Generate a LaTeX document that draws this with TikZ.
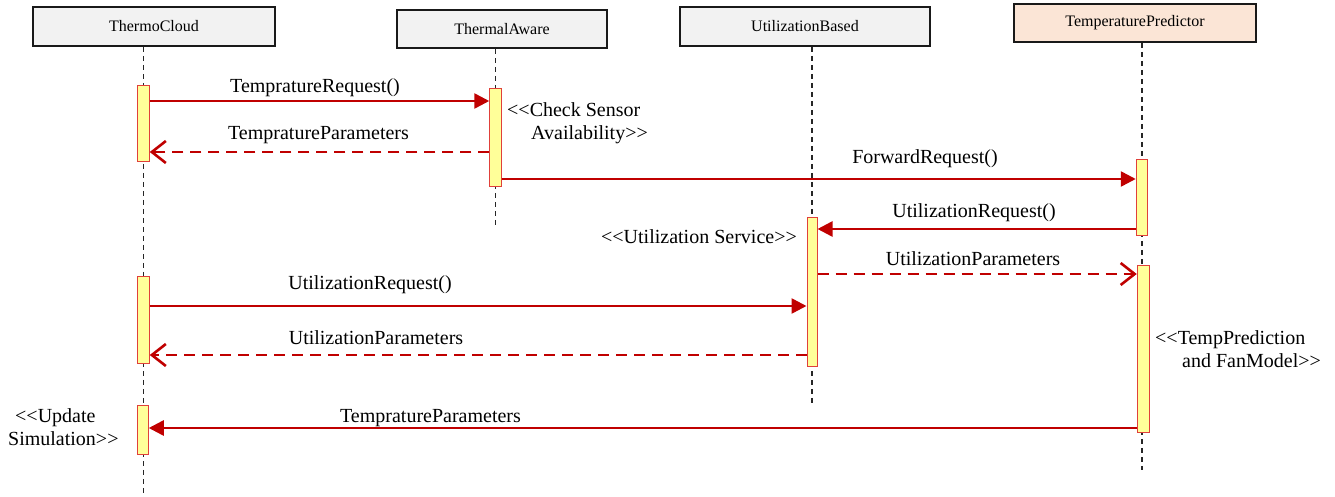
\documentclass[tikz,border=0pt]{standalone}
\usepackage{fontspec}
\setmainfont{Liberation Serif}
\usetikzlibrary{arrows.meta}
\definecolor{msgred}{HTML}{C00000}
\definecolor{barfill}{HTML}{FFFF99}
\definecolor{barline}{HTML}{E0403A}
\definecolor{headgray}{HTML}{F2F2F2}
\definecolor{headpeach}{HTML}{FBE5D6}
\newcommand\lsh{<\kern0pt<}
\newcommand\rsh{>\kern0pt>}
\begin{document}
\begin{tikzpicture}[x=1pt,y=-1pt,
  head/.style={draw=black!90, line width=1.8pt, fill=headgray, inner sep=0, font=\fontsize{16}{19}\selectfont},
  life/.style={draw=black!85, line width=1.1pt, dash pattern=on 5pt off 4pt},
  bar/.style={draw=barline, fill=barfill, line width=1pt, inner sep=0, minimum width=11.5pt},
  msg/.style={draw=msgred, line width=2.6pt, -{Triangle[length=15pt,width=15pt]}},
  ret/.style={draw=msgred, line width=2.6pt, dash pattern=on 11pt off 7pt, -{Straight Barb[length=14pt,width=22pt]}},
  lbl/.style={font=\fontsize{20}{23}\selectfont, inner sep=0, anchor=base},
  note/.style={font=\fontsize{20}{23}\selectfont, inner sep=0}]
\useasboundingbox (0,0) rectangle (1335,497);

% headers
\node[head, minimum width=242pt, minimum height=39pt] (tc) at (154,26.5) {ThermoCloud};
\node[head, minimum width=210pt, minimum height=38pt] (ta) at (502,29) {ThermalAware};
\node[head, minimum width=250pt, minimum height=39pt] (ub) at (805,26.5) {UtilizationBased};
\node[head, fill=headpeach, minimum width=242pt, minimum height=38pt] (tp) at (1135,23) {TemperaturePredictor};

% lifeline ends
\coordinate (tcend) at (143.5,497);
\coordinate (taend) at (495.5,225);
\coordinate (ubend) at (812,403);
\coordinate (tpend) at (1142,470);

\draw[life] (tc.south -| tcend) -- (tcend);
\draw[life] (ta.south -| taend) -- (taend);
\draw[life] (ub.south -| ubend) -- (ubend);
\draw[life] (tp.south -| tpend) -- (tpend);

% activation bars
\node[bar, minimum height=76pt] (tc1) at (143.5,124) {};
\node[bar, minimum height=98pt] (ta1) at (495.5,138) {};
\node[bar, minimum height=75pt] (tp1) at (1142,197.5) {};
\node[bar, minimum width=10pt, minimum height=149pt] (ub1) at (812,291.5) {};
\node[bar, minimum width=12.5pt, minimum height=167pt] (tp2) at (1143.5,348.5) {};
\node[bar, minimum height=87pt] (tc2) at (143.5,319.5) {};
\node[bar, minimum width=10.5pt, minimum height=49pt] (tc3) at (143,429.5) {};

% messages
\draw[msg] (tc1.east |- 0,101) -- (ta1.west |- 0,101);
\draw[ret] (ta1.west |- 0,152) -- (tc1.east |- 0,152);
\draw[msg] (ta1.east |- 0,179) -- (tp1.west |- 0,179);
\draw[msg] (tp1.west |- 0,229) -- (ub1.east |- 0,229);
\draw[ret] (ub1.east |- 0,274) -- (tp2.west |- 0,274);
\draw[msg] (tc2.east |- 0,306) -- (ub1.west |- 0,306);
\draw[ret] (ub1.west |- 0,355) -- (tc2.east |- 0,355);
\draw[msg] (tp2.west |- 0,428) -- (tc3.east |- 0,428);

% labels
\node[lbl] (l1) at (315,93) {TempratureRequest()};
\node[lbl] (l2) at (318.5,140) {TempratureParameters};
\node[lbl] (l3) at (925,164) {ForwardRequest()};
\node[lbl] (l4) at (974,218) {UtilizationRequest()};
\node[lbl] (l5) at (973,265) {UtilizationParameters};
\node[lbl] (l6) at (370,289) {UtilizationRequest()};
\node[lbl] (l7) at (376,344) {UtilizationParameters};
\node[lbl] (l8) at (430.5,422) {TempratureParameters};

% notes
\node[note, anchor=base west] (chk) at (507,117) {\begin{tabular}[t]{@{}l@{}}\lsh Check Sensor\\\hspace*{24pt}Availability\rsh\end{tabular}};
\node[note, anchor=base east] (us) at (797,243) {\lsh Utilization Service\rsh};
\node[note, anchor=base west] (tpm) at (1155,344) {\begin{tabular}[t]{@{}l@{}}\lsh TempPrediction\\\hspace*{27pt}and FanModel\rsh\end{tabular}};
\node[note, anchor=base west] (upd) at (8,422) {\begin{tabular}[t]{@{}l@{}}\hspace*{7pt}\lsh Update\\Simulation\rsh\end{tabular}};
\end{tikzpicture}
\end{document}
